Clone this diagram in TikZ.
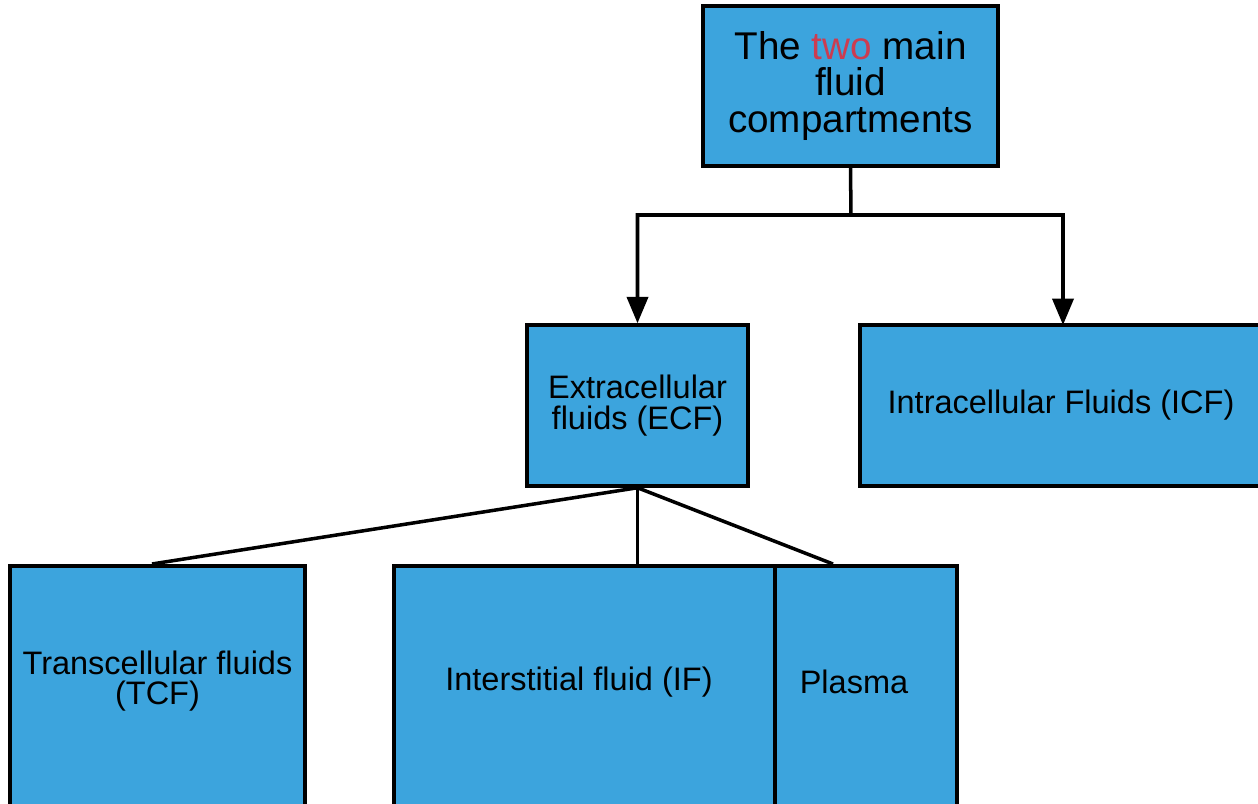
\documentclass[tikz,border=0pt]{standalone}
\usepackage{fontspec}
\setmainfont{Liberation Sans}
\usetikzlibrary{arrows.meta}

\definecolor{boxblue}{RGB}{60,164,221}
\definecolor{twored}{RGB}{204,60,80}

\tikzset{
    fluidbox/.style={draw=black, line width=2pt, fill=boxblue, inner sep=0pt},
    fluidtext/.style={align=center, font=\fontsize{18.5}{17.5}\selectfont},
    link/.style={line width=2pt, black}
}

\begin{document}
\begin{tikzpicture}[x=0.02cm, y=-0.02cm]

\useasboundingbox (0,0) rectangle (1258,804);
\clip (0,0) rectangle (1258,804);

% top box
\node[fluidbox, minimum width=5.9cm, minimum height=3.2cm, align=center,
      font=\fontsize{22}{21}\selectfont] (main) at (850.5,86)
      {The \textcolor{twored}{two} main\\fluid\\compartments};

% second row
\node[fluidbox, fluidtext, minimum width=4.42cm, minimum height=3.22cm] (ecf) at (637.5,405.5)
      {Extracellular\\fluids (ECF)};
\node[fluidbox, fluidtext, minimum width=8.04cm, minimum height=3.22cm] (icf) at (1061,405.5)
      {Intracellular Fluids (ICF)};

% third row (runs past the bottom edge)
\node[fluidbox, anchor=north, minimum width=5.9cm, minimum height=5cm] (tcf) at (157.5,564) {};
\node[fluidbox, anchor=north, minimum width=7.62cm, minimum height=5cm] (if) at (584.5,564) {};
\node[fluidbox, anchor=north, minimum width=3.64cm, minimum height=5cm] (plasma) at (866,564) {};

\node[fluidtext] (tcftext) at (157.5,681) {Transcellular fluids\\(TCF)};
\node[fluidtext] (iftext) at (579,682) {Interstitial fluid (IF)};
\node[fluidtext] (plasmatext) at (854,682) {Plasma};

% arrows from the top box
\coordinate (fork) at (851,215);
\draw[link, -{Triangle[width=12pt,length=15pt]}] (main.south) -- (fork) -| (ecf.north);
\draw[link, -{Triangle[width=12pt,length=15pt]}] (fork) -| (1063,325);

% lines to the third row
\coordinate (plasmatop) at (833,564);
\draw[link] (ecf.south) -- (152,564);
\draw[link] (ecf.south) -- (if.north -| ecf.south);
\draw[link] (ecf.south) -- (plasmatop);

\end{tikzpicture}
\end{document}
